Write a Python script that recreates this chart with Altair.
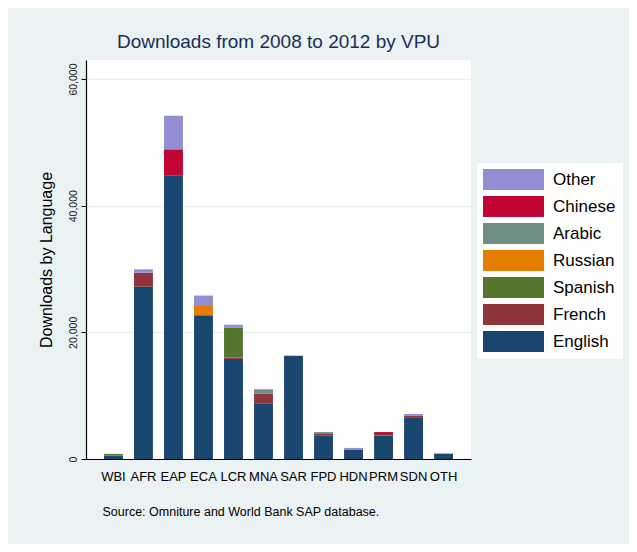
import altair as alt
import pandas as pd

regions = ["WBI", "AFR", "EAP", "ECA", "LCR", "MNA", "SAR", "FPD", "HDN", "PRM", "SDN", "OTH"]
languages = ["English", "French", "Spanish", "Russian", "Arabic", "Chinese", "Other"]
legend_order = ["Other", "Chinese", "Arabic", "Russian", "Spanish", "French", "English"]
colors = {
    "Other": "#938DD2", "Chinese": "#C10534", "Arabic": "#6E8E84", "Russian": "#E37E00",
    "Spanish": "#55752F", "French": "#90353B", "English": "#1A476F",
}

english = [550, 27200, 44800, 22700, 15800, 8700, 16300, 3750, 1500, 3700, 6600, 850]
french  = [0, 2200, 0, 0, 200, 1600, 0, 200, 0, 250, 200, 0]
spanish = [250, 0, 0, 0, 4700, 0, 0, 0, 0, 0, 0, 0]
russian = [0, 0, 0, 1600, 0, 0, 0, 0, 0, 0, 0, 0]
arabic  = [0, 0, 0, 0, 0, 700, 0, 300, 0, 0, 0, 0]
chinese = [0, 0, 4100, 0, 0, 0, 0, 0, 0, 300, 0, 0]
other   = [0, 550, 5300, 1500, 500, 0, 0, 0, 250, 0, 300, 0]

series = [english, french, spanish, russian, arabic, chinese, other]
rows = []
for li, (lang, vals) in enumerate(zip(languages, series)):
    for r, v in zip(regions, vals):
        rows.append({"region": r, "language": lang, "downloads": v, "order": li})
df = pd.DataFrame(rows)

BG = "#EAF2F3"
FONT = "Liberation Sans"
legend_symbol = "M-1,-1 L4.81,-1 L4.81,1 L-1,1 Z"

chart = alt.Chart(df).mark_bar().encode(
    x=alt.X("region:N", sort=regions,
            scale=alt.Scale(paddingInner=0.37, paddingOuter=0.6),
            axis=alt.Axis(title="Source: Omniture and World Bank SAP database.",
                          titleFont=FONT, titleFontSize=12.5, titleFontWeight="normal",
                          titleColor="#000000", titleAnchor="start", titleAlign="left",
                          titleX=16, titleY=52, titleBaseline="middle",
                          labelAngle=0, labelFont=FONT, labelFontSize=13, labelColor="#000000",
                          labelPadding=11, ticks=False, domainColor="#000000", domainWidth=1.2,
                          grid=False)),
    y=alt.Y("downloads:Q", stack="zero",
            scale=alt.Scale(domain=[0, 63000], nice=False),
            axis=alt.Axis(title="Downloads by Language", values=[0, 20000, 40000, 60000],
                          labelExpr="format(datum.value, ',.0f')",
                          titleFont=FONT, titleFontSize=16, titleFontWeight="normal",
                          titleColor="#000000", titlePadding=14,
                          labelAngle=270, labelFont=FONT, labelFontSize=10.5,
                          labelColor="#222222", labelPadding=3, tickSize=5,
                          tickColor="#000000", domainColor="#000000", domainWidth=1.2,
                          gridColor=BG, gridWidth=1.5)),
    color=alt.Color("language:N",
                    scale=alt.Scale(domain=legend_order, range=[colors[l] for l in legend_order]),
                    legend=alt.Legend(title=None, orient="none", legendX=391, legendY=103,
                                      symbolType=legend_symbol, symbolSize=441,
                                      symbolStrokeWidth=0, symbolOpacity=1,
                                      labelFont=FONT, labelFontSize=17, labelColor="#000000",
                                      labelOffset=49, rowPadding=6, padding=6,
                                      fillColor="#FFFFFF", strokeColor="#FFFFFF")),
    order=alt.Order("order:Q", sort="ascending"),
).properties(
    width=385, height=399,
    title=alt.TitleParams("Downloads from 2008 to 2012 by VPU", font=FONT, fontSize=19,
                          fontWeight="normal", color="#1A2E55", anchor="middle", offset=8),
    background=BG,
    padding={"left": 78, "top": 52, "right": 158, "bottom": 85},
    autosize=alt.AutoSizeParams(type="none"),
).configure_view(fill="#FFFFFF", stroke=None)

chart.save("out.html", embed_options={"renderer": "svg", "actions": False})
